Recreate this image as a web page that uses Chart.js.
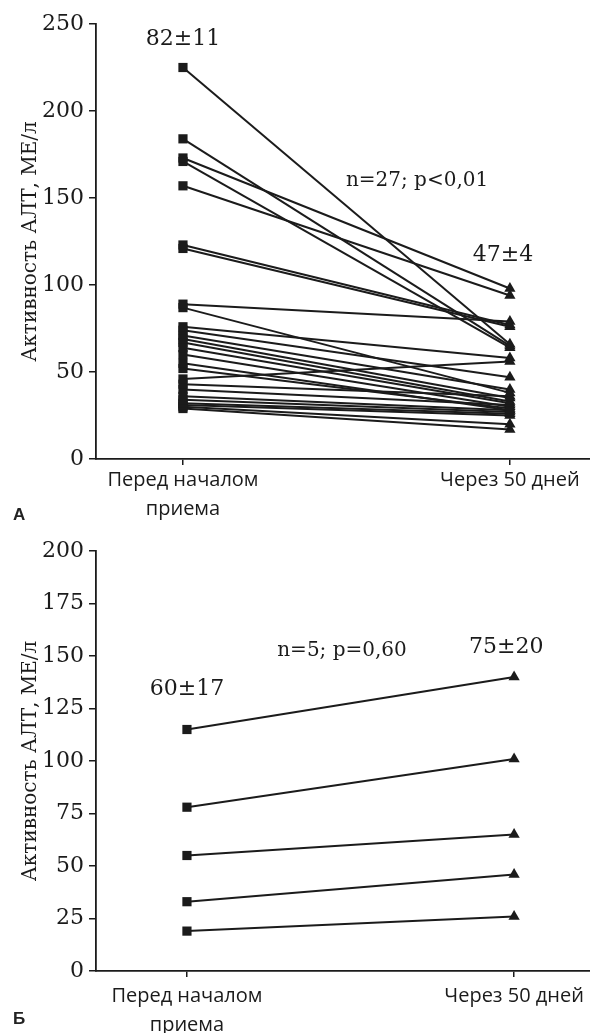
<!DOCTYPE html>
<html>
<head>
<meta charset="utf-8">
<script src="https://cdn.jsdelivr.net/npm/chart.js@4/dist/chart.umd.min.js"></script>
<style>
  html, body { margin: 0; padding: 0; overflow: hidden; }
  body { background: #fff; width: 590px; height: 1033px; position: relative; }
  canvas { position: absolute; left: 0; display: block; }
  #chartA { top: 0; }
  #chartB { top: 530px; }
  .panel { position: absolute; left: 13px; font: bold 17px "Liberation Sans", sans-serif; color: #222; }
</style>
</head>
<body>
<canvas id="chartA" width="590" height="530"></canvas>
<canvas id="chartB" width="590" height="503"></canvas>
<div class="panel" style="top:505px">А</div>
<div class="panel" style="top:1009px">Б</div>
<script>
// Категории по оси X
const categories = [['Перед началом', 'приема'], 'Через 50 дней'];

// Панель А: n=27, АЛТ до и через 50 дней
const beforeA = [225, 184, 173, 171, 157, 123, 121, 89, 87,
                 76, 74, 71, 69, 67, 64, 60, 55, 52,
                 46, 43, 40, 36, 34, 32, 31, 30, 29];
const afterA  = [66, 65, 98, 64, 94, 77, 76, 79, 38,
                 58, 47, 40, 35, 33, 32, 30, 28, 29,
                 56, 36, 31, 28, 27, 26, 25, 20, 17];
const ticksA = [0, 50, 100, 150, 200, 250];

// Панель Б: n=5
const beforeB = [115, 78, 55, 33, 19];
const afterB  = [140, 101, 65, 46, 26];
const ticksB = [0, 25, 50, 75, 100, 125, 150, 175, 200];

const notesA = [
  { text: '82±11', x: 0, y: 241 },
  { text: 'n=27; p<0,01', x: 0.716, y: 160 },
  { text: '47±4', x: 0.979, y: 117 }
];
const notesB = [
  { text: '60±17', x: 0, y: 134 },
  { text: 'n=5; p=0,60', x: 0.474, y: 152.5 },
  { text: '75±20', x: 0.976, y: 154 }
];

const INK = '#1b1b1b';
const serif = '"DejaVu Serif", serif';

// подписи на графике
const notesPlugin = {
  id: 'notes',
  afterDatasetsDraw(chart, args, opts) {
    const ctx = chart.ctx;
    const xs = chart.scales.x, ys = chart.scales.y;
    ctx.save();
    ctx.fillStyle = INK;
    ctx.textAlign = 'center';
    ctx.textBaseline = 'middle';
    opts.items.forEach(n => {
      ctx.font = (n.text.startsWith('n=') ? '20px ' : '22px ') + serif;
      ctx.fillText(n.text, xs.getPixelForValue(n.x), ys.getPixelForValue(n.y));
    });
    ctx.restore();
  }
};

function makeChart(id, before, after, ticks, notes, cfg) {
  const datasets = before.map((b, i) => ({
    data: [{ x: 0, y: b }, { x: 1, y: after[i] }],
    borderColor: INK,
    borderWidth: 2,
    backgroundColor: INK,
    pointBorderWidth: 0,
    pointStyle: c => c.dataIndex === 0 ? 'rect' : 'triangle',
    pointRadius: 6.5,
    tension: 0
  }));

  return new Chart(document.getElementById(id), {
    type: 'line',
    data: { datasets },
    plugins: [notesPlugin],
    options: {
      responsive: false,
      animation: false,
      devicePixelRatio: 1,
      layout: { autoPadding: false, padding: { top: cfg.top, left: 0, right: 0, bottom: 0 } },
      plugins: {
        legend: { display: false },
        tooltip: { enabled: false },
        notes: { items: notes }
      },
      scales: {
        x: {
          type: 'linear',
          min: cfg.xmin,
          max: cfg.xmax,
          afterBuildTicks: s => { s.ticks = [{ value: 0 }, { value: 1 }]; },
          afterFit: s => { s.height = cfg.xh; s.paddingLeft = 0; s.paddingRight = 0; },
          ticks: {
            color: INK,
            padding: cfg.xpad,
            maxRotation: 0,
            autoSkip: false,
            font: { family: '"Open Sans", sans-serif', size: 20, lineHeight: 1.45 },
            callback: (v, i) => categories[i]
          },
          grid: { drawOnChartArea: false, drawTicks: true, tickLength: 6, color: INK, lineWidth: 1.5 },
          border: { display: true, color: INK, width: 1.8 }
        },
        y: {
          min: 0,
          max: ticks[ticks.length - 1],
          afterBuildTicks: s => { s.ticks = ticks.map(v => ({ value: v })); },
          afterFit: s => { s.width = 96; },
          ticks: { color: INK, padding: 5, font: { family: serif, size: 22 } },
          grid: { drawOnChartArea: false, drawTicks: true, tickLength: 7, color: INK, lineWidth: 1.5 },
          border: { display: true, color: INK, width: 1.8 },
          title: {
            display: true,
            text: 'Активность АЛТ, МЕ/л',
            color: INK,
            padding: { top: 19, bottom: 0 },
            font: { family: serif, size: 20 }
          }
        }
      }
    }
  });
}

makeChart('chartA', beforeA, afterA, ticksA, notesA, { top: 24, xh: 71, xpad: 1, xmin: -0.266, xmax: 1.245 });
makeChart('chartB', beforeB, afterB, ticksB, notesB, { top: 21, xh: 62, xpad: 5, xmin: -0.278, xmax: 1.232 });
</script>
</body>
</html>
